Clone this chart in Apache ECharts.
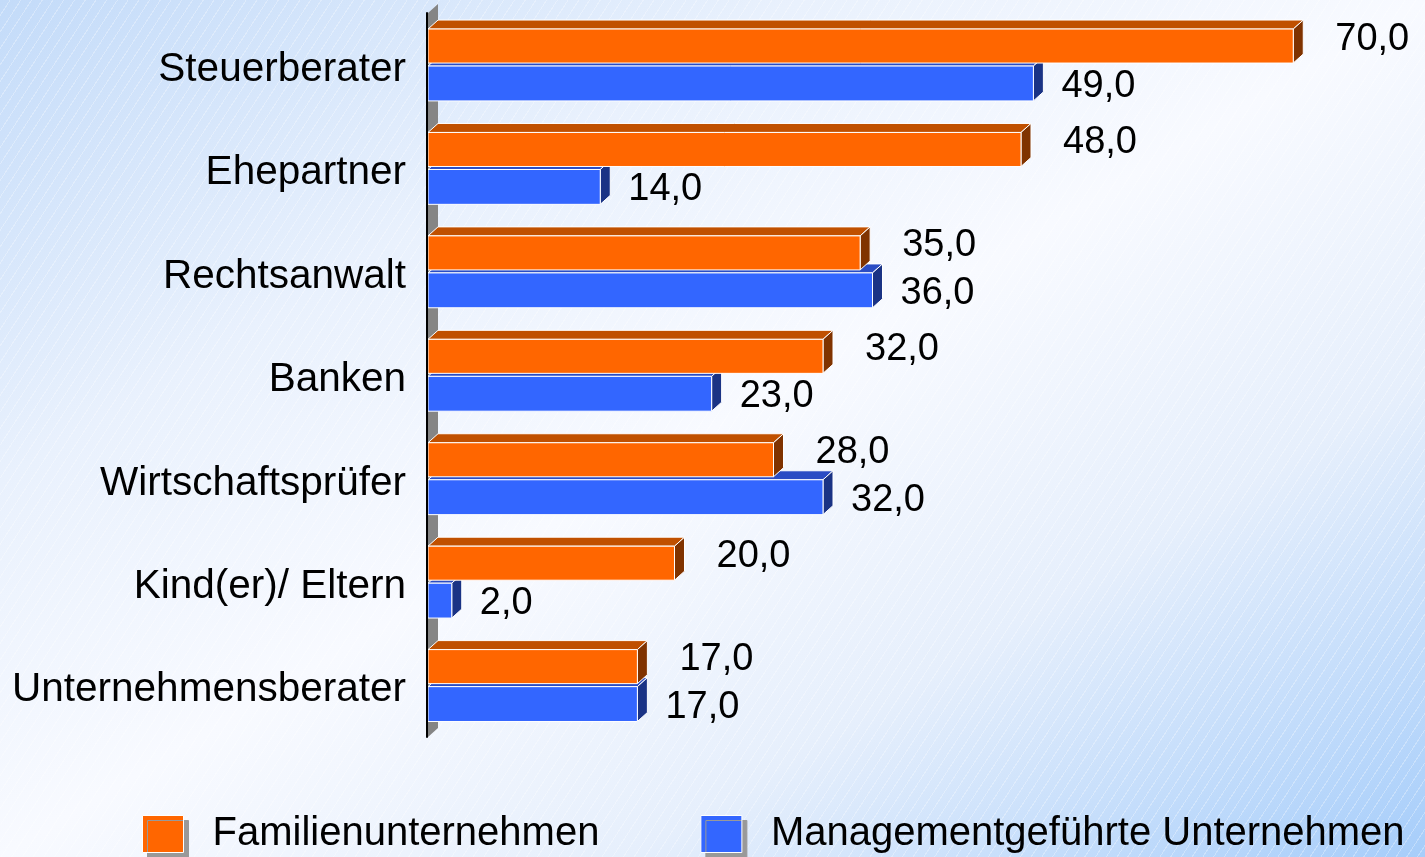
<!DOCTYPE html>
<html>
<head>
<meta charset="utf-8">
<script src="https://cdn.jsdelivr.net/npm/echarts@6/dist/echarts.min.js"></script>
<style>
    html, body {margin: 0; padding: 0;}
    #chart {
        width: 1425px;
        height: 857px;
        background:
            repeating-linear-gradient(123deg, rgba(255,255,255,0) 0px, rgba(255,255,255,0) 8px, rgba(255,255,255,0.3) 8px, rgba(255,255,255,0.3) 9px),
            linear-gradient(to bottom right, #c3dbf9 0%, #e9f1fd 28%, #f8faff 50%, #e6effc 72%, #a6cdfa 100%);
    }
</style>
</head>
<body>
<div id="chart"></div>
<script>
    // Werte aus der Grafik
    const categories = ['Steuerberater', 'Ehepartner', 'Rechtsanwalt', 'Banken', 'Wirtschaftsprüfer', 'Kind(er)/ Eltern', 'Unternehmensberater'];
    const familyValues = [70, 48, 35, 32, 28, 20, 17];
    const managedValues = [49, 14, 36, 23, 32, 2, 17];
    const seriesNames = ['Familienunternehmen', 'Managementgeführte Unternehmen'];

    const font = '"Liberation Sans", Arial, sans-serif';
    const DX = 10, DY = 9;

    // front / top / side colours
    const orangeFaces = ['#FF6600', '#C05000', '#803300'];
    const blueFaces = ['#3366FF', '#2A4CC4', '#1A3385'];

    function bar3d(faces, top, bottom, labelDx, labelDy) {
        return function (params, api) {
            let v = api.value(0);
            let i = api.value(1);
            let start = api.coord([0, i]);
            let end = api.coord([v, i]);
            let band = api.size([0, 1])[1];
            let y0 = start[1] + band * top, y1 = start[1] + band * bottom;
            let x0 = start[0] + 1, x1 = end[0];
            return {
                type: 'group', children: [
                    {
                        type: 'polygon',
                        shape: {points: [[x0, y0], [x0 + DX, y0 - DY], [x1 + DX, y0 - DY], [x1, y0]]},
                        style: {fill: faces[1], stroke: '#fff', lineWidth: 1}
                    },
                    {
                        type: 'polygon',
                        shape: {points: [[x1, y0], [x1 + DX, y0 - DY], [x1 + DX, y1 - DY], [x1, y1]]},
                        style: {fill: faces[2], stroke: '#fff', lineWidth: 1}
                    },
                    {
                        type: 'rect',
                        shape: {x: x0, y: y0, width: x1 - x0, height: y1 - y0},
                        style: {fill: faces[0], stroke: '#fff', lineWidth: 1}
                    },
                    {
                        type: 'text', x: x1 + labelDx, y: (y0 + y1) / 2 + labelDy,
                        style: {
                            text: v.toFixed(1).replace('.', ','), fontSize: 38, fontFamily: font,
                            fill: '#000', verticalAlign: 'middle', align: 'left'
                        }
                    }
                ]
            };
        };
    }

    function wall(params, api) {
        let first = api.coord([0, 0]);
        let last = api.coord([0, categories.length - 1]);
        let band = api.size([0, 1])[1];
        let x = first[0] + 1, top = first[1] - band / 2, bottom = last[1] + band / 2;
        return {
            type: 'polygon',
            shape: {points: [[x, top], [x + DX, top - DY], [x + DX, bottom - DY], [x, bottom]]},
            style: {fill: '#858585'}
        };
    }

    let chart = echarts.init(document.getElementById('chart'));
    chart.setOption({
        animation: false,
        grid: {left: 427, right: 8, top: 13, bottom: 120, containLabel: false},
        xAxis: {type: 'value', min: 0, max: 80, show: false},
        yAxis: {
            type: 'category', data: categories, inverse: true, z: 10,
            axisLine: {show: true, lineStyle: {color: '#000', width: 2}},
            axisTick: {show: false},
            splitLine: {show: false},
            axisLabel: {
                margin: 21,
                formatter: (v) => '{c|' + v + '}',
                rich: {c: {fontSize: 40.5, color: '#000', fontFamily: font, padding: [10, 0, 0, 0]}}
            }
        },
        legend: {
            data: seriesNames, left: 137, top: 809, itemWidth: 41, itemHeight: 37, itemGap: 101,
            icon: 'rect',
            itemStyle: {borderColor: '#fff', borderWidth: 1, shadowColor: '#999', shadowOffsetX: 5, shadowOffsetY: 5, shadowBlur: 0},
            textStyle: {fontSize: 40, color: '#000', fontFamily: font, padding: [6, 0, 0, 24]}
        },
        series: [
            {
                name: 'wall', type: 'custom', z: 1, renderItem: wall, data: [[0, 0]], silent: true
            },
            {
                name: seriesNames[1], type: 'custom', z: 2,
                itemStyle: {color: blueFaces[0]},
                renderItem: bar3d(blueFaces, 0.013, 0.35, 28, 3),
                encode: {x: 0, y: 1},
                data: managedValues.map((v, i) => [v, i])
            },
            {
                name: seriesNames[0], type: 'custom', z: 3,
                itemStyle: {color: orangeFaces[0]},
                renderItem: bar3d(orangeFaces, -0.345, -0.016, 42, -7),
                encode: {x: 0, y: 1},
                data: familyValues.map((v, i) => [v, i])
            }
        ]
    });
</script>
</body>
</html>
